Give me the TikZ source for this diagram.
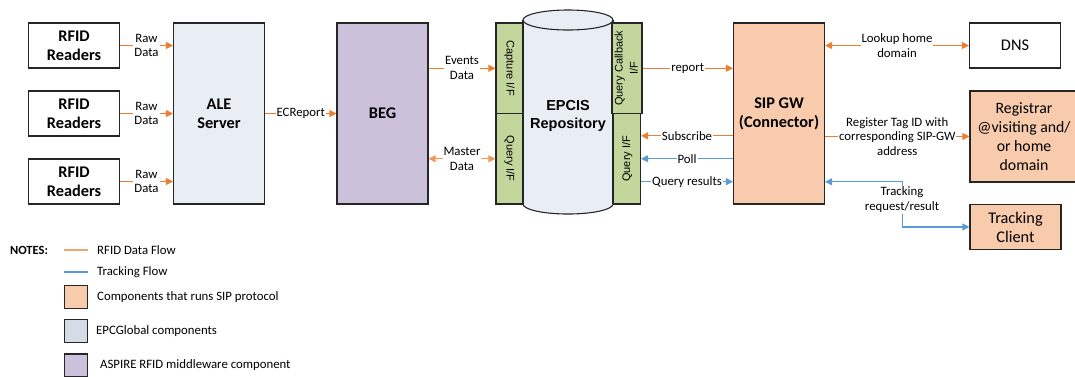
\documentclass[tikz,border=0pt]{standalone}
\usepackage{fontspec}
\setmainfont{Carlito}
\newfontfamily\arialfont{Liberation Sans}
\usepackage{graphicx}
\usetikzlibrary{arrows.meta}
\usetikzlibrary{calc}
\definecolor{rfidorange}{HTML}{ED7D31}
\definecolor{trackblue}{HTML}{5B9BD5}
\definecolor{sipfill}{HTML}{F8CBAD}
\definecolor{epcfill}{HTML}{E9EDF4}
\definecolor{epclegend}{HTML}{D6DCE5}
\definecolor{begfill}{HTML}{CCC1DA}
\definecolor{ifgreen}{HTML}{C3D69B}
\newcommand{\sidetext}[2]{%
  \rotatebox{#1}{\arialfont\fontsize{11}{15}\selectfont
    \begin{tabular}{@{}c@{}}#2\end{tabular}}}
\tikzset{
  box/.style = {
    draw = black!85, line width = 1.1pt,
    minimum width = 91pt, minimum height = 45pt,
    inner sep = 2pt, align = center,
    font = \fontsize{16.3}{19}\selectfont,
  },
  boldbox/.style = {box, font = \bfseries\fontsize{16.3}{19}\selectfont},
  tallbox/.style = {boldbox, minimum height = 181pt},
  panel/.style = {
    draw = black!85, line width = 1.1pt, fill = ifgreen,
    minimum width = 27pt, minimum height = 90.5pt, inner sep = 0pt,
  },
  lbl/.style = {
    fill = white, inner sep = 1pt, align = center,
    font = \fontsize{12.8}{14.8}\selectfont,
  },
  rfid/.style = {draw = rfidorange, line width = 1.1pt},
  track/.style = {draw = trackblue, line width = 1.1pt},
  legtxt/.style = {anchor = west, inner sep = 0pt, font = \fontsize{12.8}{14.8}\selectfont},
  swatch/.style = {draw = black!85, line width = 1.1pt, minimum size = 23pt, inner sep = 0pt},
}

\begin{document}
\begin{tikzpicture}[
    x = 1pt, y = -1pt,
    > = {Triangle[length = 7pt, width = 7pt]},
  ]
  \useasboundingbox (0,0) rectangle (1075,376);

  % Readers and ALE
  \foreach \r/\y in {1/45.5, 2/113.5, 3/181.5}
    \node[boldbox] (rdr\r) at (74,\y) {RFID\\Readers};
  \node[tallbox, fill = epcfill] (ale) at (219,113.5) {ALE\\Server};
  \node[tallbox, fill = begfill] (beg) at (382.5,113.5) {BEG};

  % EPCIS repository (cylinder)
  \draw[black!85, line width = 1.1pt, fill = epcfill]
    (568,204) ellipse [x radius = 45, y radius = 10];
  \fill[epcfill] (523,20) rectangle (613,204);
  \draw[black!85, line width = 1.1pt] (523,20) -- (523,204) (613,20) -- (613,204);
  \draw[black!85, line width = 1.1pt, fill = epcfill]
    (568,20) ellipse [x radius = 45, y radius = 10];
  \node[font = \arialfont\bfseries\fontsize{14.5}{18}\selectfont, align = center]
    (epcis) at (568,116) {EPCIS\\Repository};

  % Interfaces
  \node[panel] (capif) at (509.5,68.25) {\sidetext{-90}{Capture I/F}};
  \node[panel] (qryif) at (509.5,158.75) {\sidetext{-90}{Query I/F}};
  \node[panel] (cbif) at (627,68.25) {\sidetext{90}{Query Callback\\I/F}};
  \node[panel] (rqif) at (627,158.75) {\sidetext{90}{Query I/F}};

  % SIP side
  \node[tallbox, fill = sipfill] (sip) at (779,113.5) {SIP GW\\(Connector)};
  \node[box, fill = white] (dns) at (1015,45.5) {DNS};
  \node[box, fill = sipfill, minimum width = 108pt, minimum height = 91pt,
        font = \fontsize{15.8}{19}\selectfont]
    (reg) at (1024,136.5) {Registrar\\@visiting and/\\or home\\domain};
  \node[box, fill = sipfill] (tc) at (1015.5,227) {Tracking\\Client};

  % RFID data flow
  \foreach \r in {1,2,3}
    \draw[rfid, ->] (rdr\r.east) -- (rdr\r.east -| ale.west)
      node[lbl, midway] (raw\r) {Raw\\Data};
  \draw[rfid, ->] (ale.east) -- (beg.west) node[lbl, midway] (ecr) {ECReport};
  \draw[rfid, ->] (beg.east |- capif.west) -- (capif.west)
    node[lbl, midway] (evt) {Events\\Data};
  \draw[rfid, draw = rfidorange!80, <->] (beg.east |- qryif.west) -- (qryif.west)
    node[lbl, midway] (mst) {Master\\Data};
  \draw[rfid, ->] (cbif.east) -- (cbif.east -| sip.west)
    node[lbl, midway] (rpt) {report};
  \coordinate (subs) at ($(rqif.north east)!0.5!(rqif.east)$);
  \draw[rfid, ->] (subs -| sip.west) -- (subs) node[lbl, midway] (sbs) {Subscribe};
  \draw[rfid, <->] (sip.east |- dns.west) -- (dns.west)
    node[lbl, midway] (lkp) {Lookup home\\domain};
  \draw[rfid, ->] (sip.east |- reg.west) -- (reg.west)
    node[lbl, midway] (rgs) {Register Tag ID with\\corresponding SIP-GW\\address};

  % Tracking flow
  \draw[track, ->] (rqif.east -| sip.west) -- (rqif.east) node[lbl, midway] (pll) {Poll};
  \coordinate (qres) at ($(rqif.east)!0.5!(rqif.south east)$);
  \draw[track, ->] (qres) -- (qres -| sip.west) node[lbl, midway] (qrs) {Query results};
  \coordinate (trk) at ($(sip.east)!0.75!(sip.south east)$);
  \draw[track, <->] (trk) -- ++(77,0) |- (tc.west)
    node[lbl, pos = 0.2] (trq) {Tracking\\request/result};

  % Notes
  \node[font = \bfseries\fontsize{12.5}{14}\selectfont] (notes) at (29,250) {NOTES:};
  \node[legtxt] (lg1) at (97,250) {RFID Data Flow};
  \draw[rfid, draw = rfidorange!70] ([xshift = -33pt]lg1.west) -- ([xshift = -9pt]lg1.west);
  \node[legtxt] (lg2) at (97,272) {Tracking Flow};
  \draw[track] ([xshift = -33pt]lg2.west) -- ([xshift = -9pt]lg2.west);
  \node[swatch, fill = sipfill] (sw1) at (76,297) {};
  \node[legtxt] (lg3) at (97,297) {Components that runs SIP protocol};
  \node[swatch, fill = epclegend] (sw2) at (76,331) {};
  \node[legtxt] (lg4) at (96,331) {EPCGlobal components};
  \node[swatch, fill = begfill] (sw3) at (76,365.5) {};
  \node[legtxt] (lg5) at (100,365) {ASPIRE RFID middleware component};
\end{tikzpicture}
\end{document}
